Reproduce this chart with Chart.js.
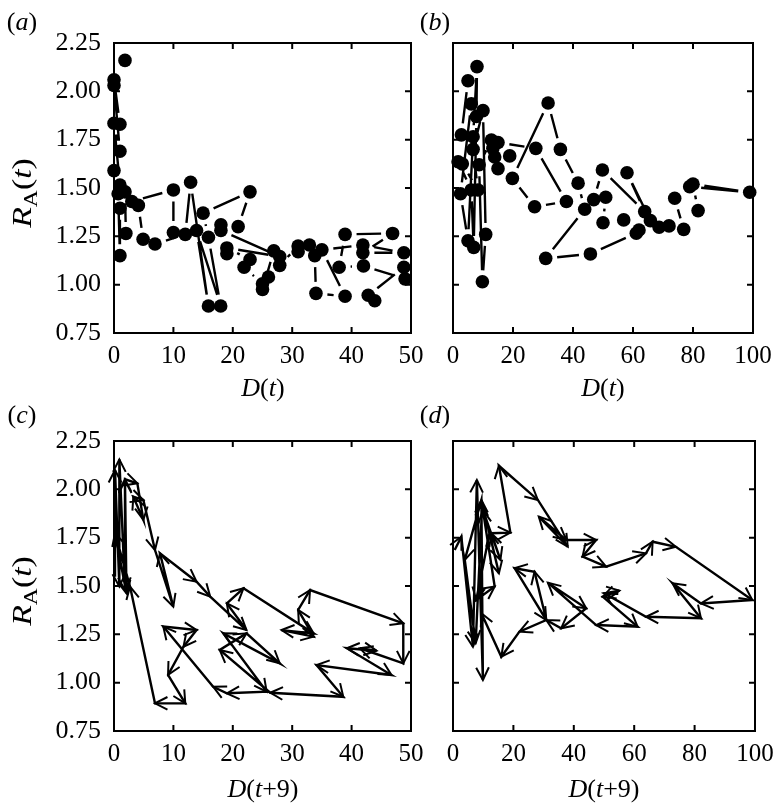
<!DOCTYPE html>
<html><head><meta charset="utf-8">
<script src="https://cdn.jsdelivr.net/npm/chart.js@4.4.1/dist/chart.umd.min.js"></script>
<style>
body{margin:0;background:#fff;width:773px;height:809px;position:relative;overflow:hidden;font-family:"Liberation Serif","Times New Roman",serif;color:#000;}
.cv{position:absolute;}
.lbl{position:absolute;font-size:26px;line-height:1;white-space:nowrap;transform:translate(-50%,-50%);}
.rot{font-size:27px;transform:translate(-50%,-50%) rotate(-90deg) scaleX(1.25);}
.sub{font-size:70%;position:relative;top:0.3em;}
</style></head><body>
<canvas id="ca" class="cv" width="440" height="400" style="left:0;top:0"></canvas>
<canvas id="cb" class="cv" width="353" height="400" style="left:420px;top:0"></canvas>
<canvas id="cc" class="cv" width="440" height="409" style="left:0;top:400px"></canvas>
<canvas id="cd" class="cv" width="353" height="409" style="left:420px;top:400px"></canvas>

<div class="lbl" style="left:22px;top:22px">(<i>a</i>)</div>
<div class="lbl" style="left:435px;top:22px">(<i>b</i>)</div>
<div class="lbl" style="left:22px;top:415px">(<i>c</i>)</div>
<div class="lbl" style="left:435px;top:415px">(<i>d</i>)</div>
<div class="lbl" style="left:263px;top:388px"><i>D</i>(<i>t</i>)</div>
<div class="lbl" style="left:603px;top:388px"><i>D</i>(<i>t</i>)</div>
<div class="lbl" style="left:263px;top:789px"><i>D</i>(<i>t</i>+9)</div>
<div class="lbl" style="left:604px;top:789px"><i>D</i>(<i>t</i>+9)</div>
<div class="lbl rot" style="left:22px;top:193px"><i>R</i><span class="sub">A</span>(<i>t</i>)</div>
<div class="lbl rot" style="left:22px;top:591px"><i>R</i><span class="sub">A</span>(<i>t</i>)</div>

<script>
// ---- tick values / labels ----
const yTickVals = [0.75, 1.00, 1.25, 1.50, 1.75, 2.00, 2.25];
const yTickLabels = ['0.75', '1.00', '1.25', '1.50', '1.75', '2.00', '2.25'];
const xTickVals50 = [0, 10, 20, 30, 40, 50];
const xTickLabels50 = ['0', '10', '20', '30', '40', '50'];
const xTickVals100 = [0, 20, 40, 60, 80, 100];
const xTickLabels100 = ['0', '20', '40', '60', '80', '100'];

// ---- panel (a): D(t) vs R_A(t) ----
const dA = [1.85,0,1,0,1,0,1,0,0.7,1,1,1.85,2,4.9,4.1,3,10,10,6.9,12,12.9,15.9,13.9,17.96,15.9,15,22.9,20.9,18,18,27.9,19,22.9,19,21.9,25,26,25,26.9,27.9,31,31,32.9,33.8,34,38.9,35,41.9,48.8,41.9,46.9,38.9,37.9,42,49,48.8,42.8,43.9];
const rA = [2.16,2.06,1.83,2.03,1.69,1.835,1.515,1.59,1.47,1.15,1.395,1.48,1.265,1.235,1.41,1.43,1.49,1.27,1.21,1.26,1.53,0.89,1.28,0.89,1.245,1.37,1.48,1.30,1.31,1.28,1.145,1.19,1.13,1.16,1.09,1.005,1.04,0.975,1.175,1.10,1.20,1.17,1.205,1.15,0.955,0.94,1.18,1.205,1.165,1.165,1.265,1.26,1.09,1.097,1.03,1.09,0.945,0.917];

// ---- panel (b): D(t) vs R_A(t) ----
const dB = [2.8,5.0,6.1,2.5,5.0,6.7,8.0,7.8,6.9,6.1,1.7,3.1,8.3,6.7,10.0,10.9,9.8,8.7,12.8,13.3,13.9,15.0,18.9,15.0,27.6,37.8,27.2,19.8,31.7,35.8,41.7,43.9,30.9,45.8,61.1,62.0,56.9,50.0,50.9,46.9,49.8,63.9,58.0,65.8,68.7,72.0,76.9,73.9,78.9,98.9,80.0,81.7];
const rB = [1.775,2.055,1.935,1.47,1.227,1.765,2.128,1.87,1.193,1.49,1.636,1.625,1.49,1.70,1.90,1.26,1.015,1.62,1.748,1.705,1.66,1.60,1.666,1.735,1.705,1.43,1.403,1.55,1.94,1.70,1.525,1.39,1.136,1.159,1.266,1.283,1.335,1.32,1.452,1.44,1.593,1.378,1.579,1.331,1.297,1.304,1.286,1.447,1.507,1.478,1.52,1.383];

// ---- panel (c): D(t+9) vs R_A(t) ----
const dC = [0.17,0.17,0.9,0.9,1.85,1.85,3.93,4.94,3.25,4.94,6.9,9.98,7.74,13.9,16.2,22.3,19.0,21.8,33.6,28.2,33.6,31.0,33.0,48.7,48.7,41.4,44.2,39.2,46.7,34.1,38.6,26.3,17.8,22.3,27.9,18.4,25.7,19.0,16.7,8.3,13.9,11.7,9.1,12.0,6.9,2.7,0.17,2.1,1.85];
const rC = [1.548,2.10,1.497,2.155,1.479,2.052,2.031,1.842,1.962,1.945,1.686,1.393,1.669,1.522,1.445,1.272,1.41,1.488,1.255,1.272,1.238,1.376,1.479,1.307,1.10,1.178,1.165,1.178,1.04,1.091,0.927,0.948,1.169,1.255,1.10,1.255,0.953,0.945,0.979,1.29,1.272,1.186,1.04,0.893,0.893,1.497,1.773,1.462,2.045];

// ---- panel (d): D(t+9) vs R_A(t) ----
const dD = [0.56,2.77,6.6,7.9,9.9,9.4,3.9,7.5,9.7,15.2,12.1,7.7,13.8,9.9,15.7,12.7,19.0,15.2,28.1,38.0,28.4,37.5,47.4,42.9,50.7,63.9,66.1,73.8,99.1,82.1,72.7,82.1,63.9,50.1,55.1,49.6,61.1,47.4,31.4,44.1,35.8,30.9,27.0,20.4,30.9,22.0,16.0,9.4];
const rD = [1.686,1.755,1.186,2.048,1.014,1.945,1.635,1.204,1.928,1.566,1.773,1.428,1.497,1.893,1.635,1.773,1.776,2.122,1.945,1.703,1.859,1.738,1.738,1.652,1.60,1.669,1.729,1.703,1.428,1.41,1.514,1.333,1.341,1.462,1.476,1.445,1.29,1.298,1.517,1.385,1.281,1.324,1.574,1.592,1.324,1.264,1.134,1.359];

// ---- plugins ----
const framePlugin = {
  id: 'frameTicks',
  afterDraw(chart) {
    const {ctx, chartArea: a, scales: {x, y}} = chart;
    const L = 6;
    ctx.save();
    ctx.strokeStyle = '#000';
    ctx.lineWidth = 2;
    ctx.strokeRect(a.left, a.top, a.right - a.left, a.bottom - a.top);
    ctx.beginPath();
    x.ticks.forEach(t => {
      const px = x.getPixelForValue(t.value);
      ctx.moveTo(px, a.bottom); ctx.lineTo(px, a.bottom - L);
      ctx.moveTo(px, a.top); ctx.lineTo(px, a.top + L);
    });
    y.ticks.forEach(t => {
      const py = y.getPixelForValue(t.value);
      ctx.moveTo(a.left, py); ctx.lineTo(a.left + L, py);
      ctx.moveTo(a.right, py); ctx.lineTo(a.right - L, py);
    });
    ctx.stroke();
    ctx.restore();
  }
};

// lines between consecutive points, with a gap around each marker
const gapLinesPlugin = {
  id: 'gapLines',
  beforeDatasetsDraw(chart) {
    const pts = chart.getDatasetMeta(0).data;
    const ctx = chart.ctx, g = 11.5;
    ctx.save();
    ctx.strokeStyle = '#000';
    ctx.lineWidth = 2.4;
    ctx.lineCap = 'butt';
    ctx.beginPath();
    for (let i = 0; i < pts.length - 1; i++) {
      const p0 = pts[i], p1 = pts[i + 1];
      const dx = p1.x - p0.x, dy = p1.y - p0.y, len = Math.hypot(dx, dy);
      if (len <= 2 * g + 1) continue;
      const ux = dx / len, uy = dy / len;
      ctx.moveTo(p0.x + ux * g, p0.y + uy * g);
      ctx.lineTo(p1.x - ux * g, p1.y - uy * g);
    }
    ctx.stroke();
    ctx.restore();
  }
};

// open arrowheads at the end of every segment
const arrowPlugin = {
  id: 'arrowHeads',
  afterDatasetsDraw(chart) {
    const pts = chart.getDatasetMeta(0).data;
    const ctx = chart.ctx, L = 14, th = 27 * Math.PI / 180;
    ctx.save();
    ctx.strokeStyle = '#000';
    ctx.lineWidth = 2;
    ctx.beginPath();
    for (let i = 1; i < pts.length; i++) {
      const p0 = pts[i - 1], p1 = pts[i];
      const ang = Math.atan2(p1.y - p0.y, p1.x - p0.x);
      ctx.moveTo(p1.x - L * Math.cos(ang - th), p1.y - L * Math.sin(ang - th));
      ctx.lineTo(p1.x, p1.y);
      ctx.lineTo(p1.x - L * Math.cos(ang + th), p1.y - L * Math.sin(ang + th));
    }
    ctx.stroke();
    ctx.restore();
  }
};

const serif = '"Liberation Serif", "Times New Roman", serif';
const xTickFont = {family: serif, size: 25};
const yTickFont = {family: serif, size: 26};

function makeChart(id, xs, ys, o) {
  const data = xs.map((v, i) => ({x: v, y: ys[i]}));
  return new Chart(document.getElementById(id), {
    type: 'scatter',
    data: {datasets: [{
      data,
      showLine: o.arrows,
      borderColor: '#000',
      borderWidth: 2.4,
      pointRadius: o.arrows ? 0 : 6.8,
      pointHoverRadius: o.arrows ? 0 : 6.8,
      pointBackgroundColor: '#000',
      pointBorderWidth: 0,
      clip: false,
      tension: 0
    }]},
    options: {
      responsive: false,
      animation: false,
      devicePixelRatio: 1,
      events: [],
      layout: {autoPadding: false, padding: {top: o.top, right: o.right, left: 0, bottom: 0}},
      plugins: {legend: {display: false}, tooltip: {enabled: false}},
      scales: {
        x: {
          type: 'linear', min: 0, max: o.xmax,
          grid: {display: false, drawTicks: false},
          border: {display: false},
          afterBuildTicks: s => { s.ticks = o.xv.map(v => ({value: v})); },
          ticks: {padding: o.xpad, color: '#000', font: xTickFont, maxRotation: 0, autoSkip: false,
                  callback: (v, i) => o.xl[i]},
          afterFit: s => { s.height = o.xh; s.paddingLeft = 0; s.paddingRight = 0; }
        },
        y: {
          type: 'linear', min: 0.75, max: 2.25,
          grid: {display: false, drawTicks: false},
          border: {display: false},
          afterBuildTicks: s => { s.ticks = yTickVals.map(v => ({value: v})); },
          ticks: {display: o.ylab, padding: 13, color: '#000', font: yTickFont, autoSkip: false,
                  callback: (v, i) => yTickLabels[i]},
          afterFit: s => { s.width = o.yw; s.paddingTop = 0; s.paddingBottom = 0; }
        }
      }
    },
    plugins: o.arrows ? [framePlugin, arrowPlugin] : [framePlugin, gapLinesPlugin]
  });
}

makeChart('ca', dA, rA, {arrows: false, top: 43, right: 29, xmax: 50, xv: xTickVals50, xl: xTickLabels50, xh: 67, yw: 114, ylab: true, xpad: 8});
makeChart('cb', dB, rB, {arrows: false, top: 43, right: 20, xmax: 100, xv: xTickVals100, xl: xTickLabels100, xh: 67, yw: 33, ylab: false, xpad: 8});
makeChart('cc', dC, rC, {arrows: true, top: 41, right: 29, xmax: 50, xv: xTickVals50, xl: xTickLabels50, xh: 78, yw: 114, ylab: true, xpad: 8});
makeChart('cd', dD, rD, {arrows: true, top: 41, right: 18, xmax: 100, xv: xTickVals100, xl: xTickLabels100, xh: 78, yw: 33, ylab: false, xpad: 8});
</script>
</body></html>
